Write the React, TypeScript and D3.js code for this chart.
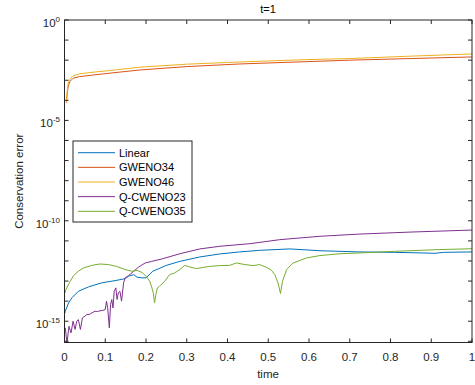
import React from "react";
import * as d3 from "d3";

// time samples and log10(conservation error) values
const gwenoT = [0.004, 0.005, 0.007, 0.009, 0.013, 0.021, 0.037, 0.07, 0.11, 0.184, 0.3, 0.43, 0.5, 0.6, 0.7, 0.85, 1.0];
const gweno34Log = [-4.12, -4.06, -3.6, -3.32, -3.07, -2.9, -2.82, -2.74, -2.65, -2.49, -2.32, -2.19, -2.14, -2.07, -2.0, -1.92, -1.84];
const gweno46Log = [-4.05, -3.98, -3.45, -3.15, -2.95, -2.78, -2.68, -2.6, -2.52, -2.35, -2.2, -2.09, -2.04, -1.97, -1.92, -1.8, -1.69];

const linearT = [0.001, 0.002, 0.01, 0.018, 0.034, 0.059, 0.091, 0.124, 0.149, 0.157, 0.17, 0.178, 0.19, 0.2, 0.217, 0.25, 0.283, 0.332, 0.381, 0.43, 0.479, 0.553, 0.627, 0.725, 0.81, 0.88, 0.909, 0.93, 1.0];
const linearLog = [-14.6, -14.5, -14.09, -13.84, -13.51, -13.29, -13.09, -12.98, -12.88, -12.76, -12.68, -12.81, -12.84, -12.84, -12.51, -12.22, -12.02, -11.8, -11.65, -11.55, -11.47, -11.4, -11.49, -11.55, -11.57, -11.6, -11.62, -11.57, -11.55];

const qc23T = [0.002, 0.006, 0.011, 0.016, 0.021, 0.026, 0.03, 0.034, 0.039, 0.044, 0.05, 0.055, 0.061, 0.067, 0.075, 0.081, 0.087, 0.094, 0.1, 0.103, 0.106, 0.11, 0.113, 0.116, 0.119, 0.122, 0.126, 0.129, 0.132, 0.136, 0.14, 0.145, 0.149, 0.157, 0.17, 0.182, 0.198, 0.214, 0.239, 0.283, 0.332, 0.381, 0.455, 0.528, 0.627, 0.725, 0.85, 1.0];
const qc23Log = [-15.33, -16.1, -15.25, -15.58, -15.0, -15.41, -15.0, -14.92, -15.41, -14.83, -14.75, -14.67, -14.66, -14.59, -14.5, -14.52, -14.48, -14.46, -14.42, -14.0, -14.34, -15.33, -14.17, -13.92, -14.34, -13.51, -13.34, -13.92, -13.59, -13.51, -14.0, -13.09, -12.84, -12.73, -12.51, -12.3, -12.1, -12.02, -11.9, -11.64, -11.4, -11.27, -11.14, -10.94, -10.77, -10.66, -10.56, -10.46];

const qc35T = [0.001, 0.004, 0.012, 0.022, 0.034, 0.046, 0.067, 0.087, 0.108, 0.128, 0.149, 0.165, 0.178, 0.19, 0.2, 0.209, 0.214, 0.218, 0.221, 0.224, 0.228, 0.233, 0.246, 0.258, 0.27, 0.283, 0.295, 0.307, 0.324, 0.34, 0.356, 0.381, 0.405, 0.422, 0.443, 0.463, 0.479, 0.496, 0.508, 0.516, 0.524, 0.53, 0.535, 0.545, 0.561, 0.594, 0.627, 0.676, 0.725, 0.81, 0.909, 1.0];
const qc35Log = [-13.6, -13.4, -13.09, -12.73, -12.51, -12.35, -12.22, -12.15, -12.18, -12.27, -12.43, -12.51, -12.47, -12.57, -12.76, -13.0, -13.3, -13.6, -14.09, -13.7, -13.34, -13.26, -13.01, -12.68, -12.6, -12.43, -12.22, -12.3, -12.38, -12.32, -12.27, -12.23, -12.22, -12.1, -12.18, -12.23, -12.18, -12.32, -12.47, -12.68, -13.09, -13.62, -13.01, -12.43, -12.1, -11.85, -11.73, -11.64, -11.6, -11.52, -11.44, -11.39];

const seriesNames = ["Linear", "GWENO34", "GWENO46", "Q-CWENO23", "Q-CWENO35"];
const seriesColors = ["#0072BD", "#D95319", "#EDB120", "#7E2F8E", "#77AC30"];
const xTicks = [0, 0.1, 0.2, 0.3, 0.4, 0.5, 0.6, 0.7, 0.8, 0.9, 1];
const yLabelExps = [0, -5, -10, -15];
const yTickExps = [0, -1, -2, -3, -4, -5, -6, -7, -8, -9, -10, -11, -12, -13, -14, -15, -16];

const W = 475, H = 385;
const L = 64.5, R = 472, T = 20, B = 342.5;
const FONT = "'Liberation Sans', Arial, Helvetica, sans-serif";
const AX = "#262626";

export default function App() {
  const x = d3.scaleLinear().domain([0, 1]).range([L, R]);
  const y = d3.scaleLog().domain([Math.pow(10, -16.06), 1]).range([B, T]);
  const line = d3.line<[number, number]>().x(d => x(d[0])).y(d => y(Math.pow(10, d[1])));
  const mk = (ts: number[], vs: number[]) => ts.map((t, i) => [t, vs[i]] as [number, number]);
  const series = [
    mk(linearT, linearLog),
    mk(gwenoT, gweno34Log),
    mk(gwenoT, gweno46Log),
    mk(qc23T, qc23Log),
    mk(qc35T, qc35Log),
  ];
  const legX = 73, legY = 141, legW = 119, legH = 81;
  const rowH = 14.65;
  return (
    <svg width={W} height={H} style={{ position: "absolute", left: 0, top: 0, background: "#fff" }} fontFamily={FONT}>
      <defs>
        <clipPath id="plotclip">
          <rect x={L} y={T} width={R - L} height={B - T} />
        </clipPath>
      </defs>
      <rect x={0} y={0} width={W} height={H} fill="#fff" />
      <g clipPath="url(#plotclip)" fill="none" strokeWidth={1}>
        {series.map((s, i) => (
          <path key={i} d={line(s) || ""} stroke={seriesColors[i]} strokeLinejoin="round" />
        ))}
      </g>
      {/* axes box */}
      <rect x={L} y={T} width={R - L} height={B - T} fill="none" stroke={AX} strokeWidth={1} />
      {xTicks.map((t, i) => (
        <g key={i}>
          <line x1={x(t)} x2={x(t)} y1={B} y2={B - 4} stroke={AX} />
          <line x1={x(t)} x2={x(t)} y1={T} y2={T + 4} stroke={AX} />
          <text x={x(t)} y={361} textAnchor="middle" fontSize={11.5} fill={AX}>{String(t)}</text>
        </g>
      ))}
      {yTickExps.map((e, i) => (
        <g key={i}>
          <line x1={L} x2={L + 4} y1={y(Math.pow(10, e))} y2={y(Math.pow(10, e))} stroke={AX} />
          <line x1={R} x2={R - 4} y1={y(Math.pow(10, e))} y2={y(Math.pow(10, e))} stroke={AX} />
        </g>
      ))}
      {yLabelExps.map((e, i) => (
        <text key={i} x={60} y={y(Math.pow(10, e)) + 7} textAnchor="end" fontSize={11.5} fill={AX}>
          10<tspan fontSize={8} dy={-5}>{String(e)}</tspan>
        </text>
      ))}
      <text x={268} y={13} textAnchor="middle" fontSize={11} fill="#000">t=1</text>
      <text x={268} y={378} textAnchor="middle" fontSize={11.5} fill={AX}>time</text>
      <text transform={`translate(23,${(T + B) / 2}) rotate(-90)`} textAnchor="middle" fontSize={11.5} fill={AX}>Conservation error</text>
      {/* legend */}
      <rect x={legX} y={legY} width={legW} height={legH} fill="#fff" stroke={AX} strokeWidth={1} />
      {seriesNames.map((n, i) => {
        const ry = legY + 11.7 + i * rowH;
        return (
          <g key={n}>
            <line x1={78} x2={115} y1={ry} y2={ry} stroke={seriesColors[i]} strokeWidth={1} />
            <text x={119} y={ry + 4} fontSize={11} fill="#000">{n}</text>
          </g>
        );
      })}
    </svg>
  );
}
